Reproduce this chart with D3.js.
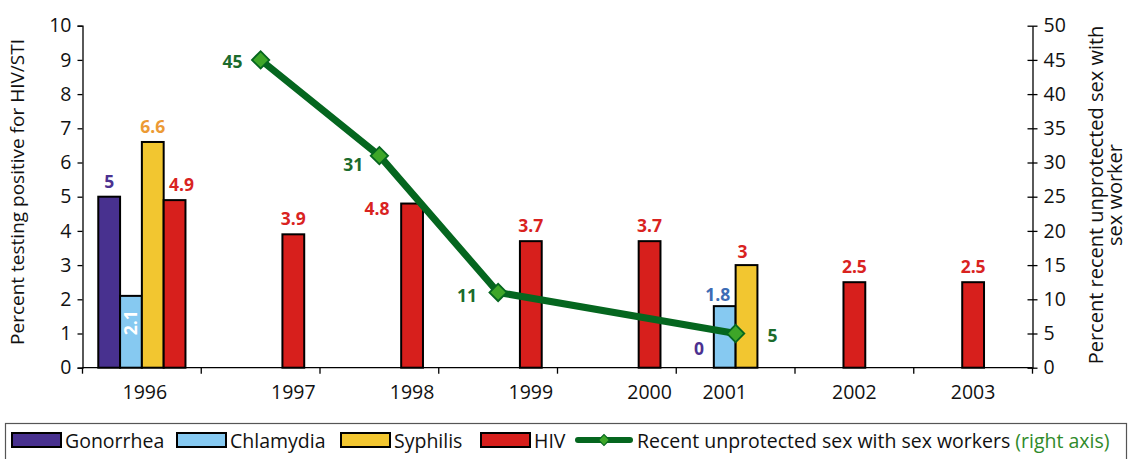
<!DOCTYPE html>
<meta charset="utf-8">
<head>
  <title>HIV/STI testing and unprotected sex with sex workers</title>
</head>

<style>
body {
  margin: 0;
  background: #fff;
  font-family: "Open Sans", "Noto Sans", sans-serif;
}
svg text {
  font-family: "Open Sans", "Noto Sans", sans-serif;
}
.axis path, .axis line {
  stroke: #000;
  stroke-width: 1.3px;
}
.axis text {
  font-size: 19.5px;
  fill: #111;
}
.val {
  font-size: 17.5px;
  font-weight: 700;
  text-anchor: middle;
}
</style>

<body>
  <svg width="1128" height="459"></svg>

  <script src="https://cdnjs.cloudflare.com/ajax/libs/d3/7.8.5/d3.min.js"></script>

  <script>
  // data
  var years = ['1996', '1997', '1998', '1999', '2000', '2001', '2002', '2003'];
  var gonorrhea   = [5,   null, null, null, null, 0,   null, null];
  var chlamydia   = [2.1, null, null, null, null, 1.8, null, null];
  var syphilis    = [6.6, null, null, null, null, 3,   null, null];
  var hiv         = [4.9, 3.9,  4.8,  3.7,  3.7,  null, 2.5, 2.5];
  var unprotected = [null, 45,  31,   11,   null, 5,   null, null];

  var leftTicks = d3.range(0, 11, 1);
  var rightTicks = d3.range(0, 55, 5);

  var seriesNames = ['Gonorrhea', 'Chlamydia', 'Syphilis', 'HIV'];
  var seriesValues = [gonorrhea, chlamydia, syphilis, hiv];
  var colors = {
    Gonorrhea: '#48318f',
    Chlamydia: '#86c9f1',
    Syphilis: '#f2c630',
    HIV: '#d71f1c'
  };
  var labelColors = {
    Gonorrhea: '#4b3190',
    Chlamydia: '#3d6cb5',
    Syphilis: '#ec9a34',
    HIV: '#d9231f'
  };
  var lineColor = '#05661f';
  var markerFill = '#3ea628';
  var lineLabelColor = '#1b6b2c';

  // years where the single HIV bar sits centred in its slot
  var centredYears = ['2002', '2003'];

  // hand nudges for value labels (dx, dy)
  var nudge = {
    'HIV|1996': [7, 0],
    'HIV|1998': [-35, 20],
    'Gonorrhea|2001': [-4, -4],
    'Chlamydia|2001': [-7, 4],
    'Syphilis|2001': [-4, 2],
    'line|1997': [-28, 8],
    'line|1998': [-26, 15],
    'line|1999': [-31, 10],
    'line|2001': [37, 8]
  };

  var svg = d3.select('svg');

  var plotLeft = 82.5, plotRight = 1032.5, plotTop = 25.7, plotBottom = 367.7;

  var x = d3.scaleBand()
    .domain(years)
    .range([plotLeft, plotRight]);

  var bw = x.bandwidth();

  var xSub = d3.scaleBand()
    .domain(seriesNames)
    .range([bw / 2 - 43.6, bw / 2 + 43.6]);

  var yL = d3.scaleLinear().domain([0, 10]).range([plotBottom, plotTop]);
  var yR = d3.scaleLinear().domain([0, 50]).range([plotBottom, plotTop]);

  // flatten bars
  var bars = [];
  seriesNames.forEach(function(s, si) {
    seriesValues[si].forEach(function(v, i) {
      if (v === null) return;
      var year = years[i];
      var x0 = x(year) + xSub(s);
      if (s === 'HIV' && centredYears.indexOf(year) >= 0) {
        x0 = x(year) + bw / 2 - xSub.bandwidth() / 2;
      }
      bars.push({ series: s, year: year, value: v, x0: x0 });
    });
  });

  // axes
  svg.append('g')
    .attr('class', 'axis')
    .attr('transform', 'translate(' + plotLeft + ',0)')
    .call(d3.axisLeft(yL).tickValues(leftTicks).tickSize(5).tickPadding(6).tickFormat(d3.format('d')));

  svg.append('g')
    .attr('class', 'axis')
    .attr('transform', 'translate(' + plotRight + ',0)')
    .call(d3.axisRight(yR).tickValues(rightTicks).tickSize(0).tickPadding(11).tickFormat(d3.format('d')))
    .call(function(g) {
      g.selectAll('.tick line').attr('x1', -5).attr('x2', 5);
    });

  var xAxis = svg.append('g')
    .attr('class', 'axis')
    .attr('transform', 'translate(0,' + plotBottom + ')');

  xAxis.append('line')
    .attr('x1', plotLeft).attr('x2', plotRight)
    .attr('stroke', '#000').attr('stroke-width', 1.3);

  xAxis.selectAll('line.tick')
    .data(years.concat(['end']))
    .enter()
    .append('line')
    .attr('class', 'tick')
    .attr('x1', function(d) { return d === 'end' ? plotRight : x(d); })
    .attr('x2', function(d) { return d === 'end' ? plotRight : x(d); })
    .attr('y1', 0)
    .attr('y2', 6);

  // year labels centred under the bars that are drawn
  xAxis.selectAll('text')
    .data(years)
    .enter()
    .append('text')
    .attr('x', function(d) {
      var b = bars.filter(function(e) { return e.year === d; });
      return d3.mean(b, function(e) { return e.x0 + xSub.bandwidth() / 2; }) + (d === '1996' ? 3 : 0);
    })
    .attr('y', 31)
    .attr('text-anchor', 'middle')
    .text(function(d) { return d; });

  // bars
  svg.append('g')
    .selectAll('rect')
    .data(bars)
    .enter()
    .append('rect')
    .attr('x', function(d) { return d.x0; })
    .attr('y', function(d) { return yL(d.value); })
    .attr('width', xSub.bandwidth())
    .attr('height', function(d) { return plotBottom - yL(d.value); })
    .attr('fill', function(d) { return colors[d.series]; })
    .attr('stroke', '#000')
    .attr('stroke-width', 2);

  // bar value labels
  svg.append('g')
    .selectAll('text')
    .data(bars)
    .enter()
    .append('text')
    .attr('class', 'val')
    .attr('fill', function(d) {
      if (d.series === 'Chlamydia' && d.year === '1996') return '#fff';
      if (d.series === 'Syphilis' && d.year === '2001') return labelColors.HIV;
      return labelColors[d.series];
    })
    .attr('transform', function(d) {
      var cx = d.x0 + xSub.bandwidth() / 2;
      if (d.series === 'Chlamydia' && d.year === '1996') {
        return 'translate(' + (cx + 6) + ',' + (plotBottom - 45) + ') rotate(-90)';
      }
      var n = nudge[d.series + '|' + d.year] || [0, 0];
      return 'translate(' + (cx + n[0]) + ',' + (yL(d.value) - 9 + n[1]) + ')';
    })
    .text(function(d) { return d.value; });

  // line on right axis
  var pts = [];
  unprotected.forEach(function(v, i) {
    if (v !== null) pts.push({ year: years[i], value: v });
  });

  var line = d3.line()
    .x(function(d) { return x(d.year) + bw / 2; })
    .y(function(d) { return yR(d.value); });

  svg.append('path')
    .datum(pts)
    .attr('d', line)
    .attr('fill', 'none')
    .attr('stroke', lineColor)
    .attr('stroke-width', 7)
    .attr('stroke-linejoin', 'round');

  svg.append('g')
    .selectAll('path')
    .data(pts)
    .enter()
    .append('path')
    .attr('d', d3.symbol().type(d3.symbolSquare).size(150))
    .attr('transform', function(d) {
      return 'translate(' + (x(d.year) + bw / 2) + ',' + yR(d.value) + ') rotate(45)';
    })
    .attr('fill', markerFill)
    .attr('stroke', lineColor)
    .attr('stroke-width', 1.8);

  svg.append('g')
    .selectAll('text')
    .data(pts)
    .enter()
    .append('text')
    .attr('class', 'val')
    .attr('fill', lineLabelColor)
    .attr('x', function(d) { return x(d.year) + bw / 2 + nudge['line|' + d.year][0]; })
    .attr('y', function(d) { return yR(d.value) + nudge['line|' + d.year][1]; })
    .text(function(d) { return d.value; });

  // axis titles
  svg.append('text')
    .attr('transform', 'translate(24,192) rotate(-90)')
    .attr('text-anchor', 'middle')
    .style('font-size', '19px')
    .attr('fill', '#111')
    .text('Percent testing positive for HIV/STI');

  var rt = svg.append('text')
    .attr('transform', 'translate(1103,195) rotate(-90)')
    .attr('text-anchor', 'middle')
    .style('font-size', '20px')
    .attr('fill', '#111');
  rt.append('tspan').attr('x', 0).attr('dy', 0).text('Percent recent unprotected sex with');
  rt.append('tspan').attr('x', 0).attr('dy', 19).text('sex worker');

  // legend
  var lg = svg.append('g');
  lg.append('rect')
    .attr('x', 5.5).attr('y', 423.5)
    .attr('width', 1121).attr('height', 50)
    .attr('fill', '#fff')
    .attr('stroke', '#555')
    .attr('stroke-width', 1.2);

  var legendItems = [
    { name: 'Gonorrhea', sx: 12 },
    { name: 'Chlamydia', sx: 177 },
    { name: 'Syphilis', sx: 341 },
    { name: 'HIV', sx: 481 }
  ];

  var li = lg.selectAll('g.item')
    .data(legendItems)
    .enter()
    .append('g')
    .attr('class', 'item')
    .attr('transform', function(d) { return 'translate(' + d.sx + ',433)'; });

  li.append('rect')
    .attr('width', 49).attr('height', 14)
    .attr('fill', function(d) { return colors[d.name]; })
    .attr('stroke', '#000')
    .attr('stroke-width', 2);

  li.append('text')
    .attr('x', 53).attr('y', 15)
    .style('font-size', '19.5px')
    .attr('fill', '#111')
    .text(function(d) { return d.name; });

  lg.append('line')
    .attr('x1', 578).attr('x2', 630)
    .attr('y1', 440).attr('y2', 440)
    .attr('stroke', lineColor)
    .attr('stroke-width', 6)
    .attr('stroke-linecap', 'round');

  lg.append('path')
    .attr('d', d3.symbol().type(d3.symbolSquare).size(60))
    .attr('transform', 'translate(604,440) rotate(45)')
    .attr('fill', markerFill)
    .attr('stroke', lineColor)
    .attr('stroke-width', 1.2);

  var lt = lg.append('text')
    .attr('x', 637).attr('y', 448)
    .style('font-size', '19.5px')
    .attr('fill', '#111');
  lt.append('tspan').text('Recent unprotected sex with sex workers ');
  lt.append('tspan').attr('fill', '#2f8a2a').text('(right axis)');
  </script>
</body>
</html>
